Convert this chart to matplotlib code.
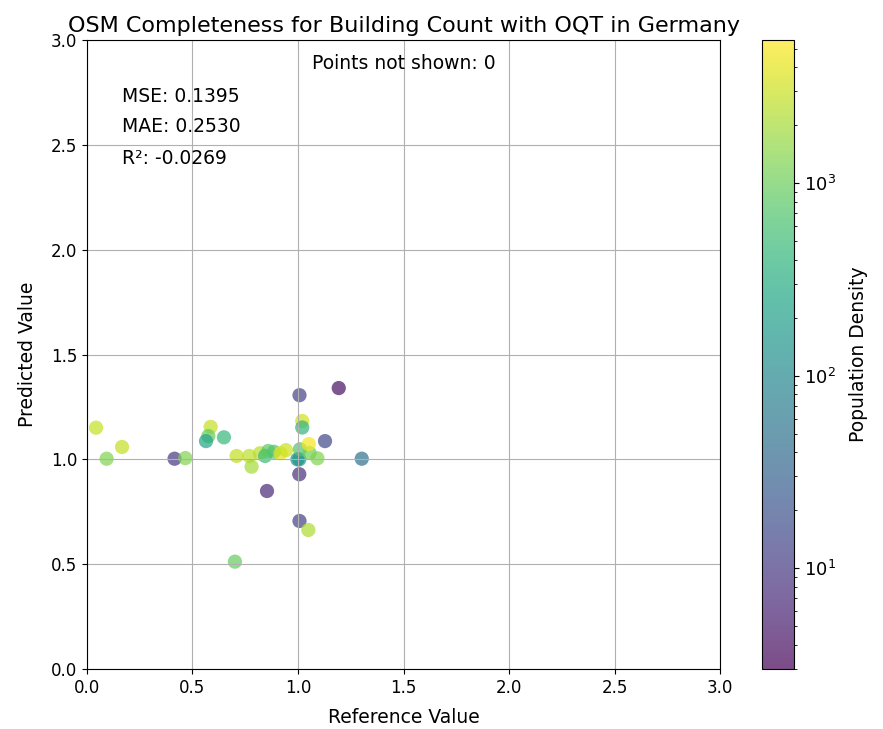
import matplotlib
matplotlib.use("Agg")
import matplotlib.pyplot as plt
from matplotlib.colors import LogNorm
import numpy as np

# Reference vs. predicted completeness per region, with population density
reference = [0.043, 0.093, 0.166, 0.415, 0.466, 0.586, 0.575, 0.564, 0.649,
             0.709, 0.769, 0.780, 0.820, 0.844, 0.859, 0.886, 0.917, 0.943,
             0.853, 1.006, 0.997, 1.006, 1.009, 1.055, 1.092, 1.020, 1.020,
             1.128, 1.051, 1.302, 1.007, 1.193, 1.007, 1.049, 0.701]
predicted = [1.151, 1.003, 1.059, 1.003, 1.006, 1.155, 1.111, 1.087, 1.105,
             1.016, 1.016, 0.965, 1.029, 1.016, 1.040, 1.036, 1.029, 1.044,
             0.849, 0.929, 1.000, 1.000, 1.048, 1.030, 1.005, 1.183, 1.152,
             1.087, 1.073, 1.003, 1.306, 1.340, 0.706, 0.663, 0.512]
density = [2900, 1300, 2800, 10, 1300, 2800, 900, 250, 450,
           2800, 2600, 2000, 2500, 500, 800, 700, 4000, 3000,
           7, 8, 150, 150, 700, 1100, 1300, 3200, 400,
           15, 5000, 45, 13, 4, 12, 2200, 900]

mse_text = "MSE: 0.1395"
mae_text = "MAE: 0.2530"
r2_text = "R²: -0.0269"
not_shown = 0

fig = plt.figure(figsize=(8.83, 7.29), dpi=100)
ax = fig.add_axes([0.0985, 0.0823, 0.717, 0.8628])
cax = fig.add_axes([0.863, 0.0823, 0.036, 0.8628])

sc = ax.scatter(reference, predicted, c=density, cmap="viridis",
                norm=LogNorm(vmin=3.0, vmax=5550), s=105, alpha=0.7,
                edgecolors="none")

ax.set_xlim(0, 3)
ax.set_ylim(0, 3)
ax.set_xticks(np.arange(0, 3.01, 0.5))
ax.set_yticks(np.arange(0, 3.01, 0.5))
ax.grid(True)
ax.tick_params(labelsize=12)
ax.set_xlabel("Reference Value", fontsize=13.5, labelpad=8)
ax.set_ylabel("Predicted Value", fontsize=13.5, labelpad=10)
ax.set_title("OSM Completeness for Building Count with OQT in Germany", fontsize=16)

ax.text(0.055, 0.911, mse_text, transform=ax.transAxes, fontsize=13.5, va="center")
ax.text(0.055, 0.862, mae_text, transform=ax.transAxes, fontsize=13.5, va="center")
ax.text(0.055, 0.812, r2_text, transform=ax.transAxes, fontsize=13.5, va="center")
ax.text(0.5, 0.962, f"Points not shown: {not_shown}", transform=ax.transAxes,
        fontsize=13.5, ha="center", va="center")

cb = fig.colorbar(sc, cax=cax)
cb.set_label("Population Density", fontsize=13.5, labelpad=10)
cb.ax.tick_params(labelsize=13)

fig.savefig("out.png", dpi=100)
